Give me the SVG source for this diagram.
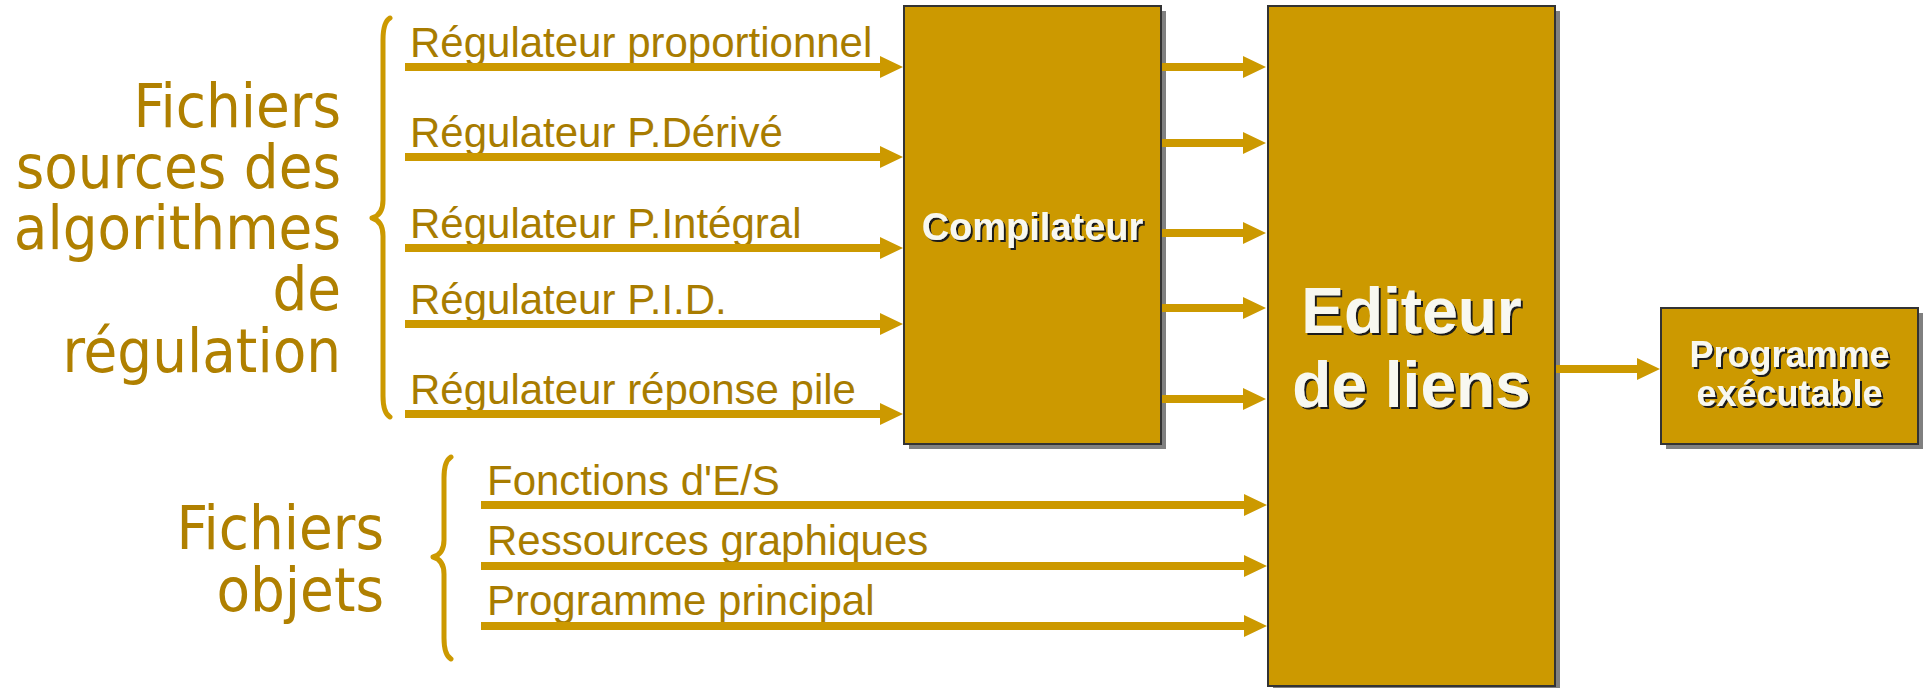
<svg xmlns="http://www.w3.org/2000/svg" width="1924" height="688" viewBox="0 0 1924 688">
<style>
.arr{fill:#CC9900}
.brace{fill:none;stroke:#CC9900;stroke-width:5;stroke-linecap:round;stroke-linejoin:round}
.box{fill:#CC9900;stroke:#333333;stroke-width:2}
.shadow{fill:#808080}
.lbl{font-family:"Liberation Sans",Arial,sans-serif;font-size:42px;fill:#A87C00}
.big{font-family:"DejaVu Sans Condensed","DejaVu Sans",sans-serif;font-stretch:condensed;font-size:61px;fill:#B08000;text-anchor:end}
.bt{font-family:"Liberation Sans",Arial,sans-serif;font-weight:bold;fill:#F8F8F0;text-anchor:middle;filter:url(#ts)}
</style>
<defs>
<filter id="ts" x="-10%" y="-20%" width="120%" height="150%">
<feOffset in="SourceAlpha" dx="2" dy="2" result="o"/>
<feFlood flood-color="#1a1a1a"/>
<feComposite in2="o" operator="in" result="s"/>
<feMerge><feMergeNode in="s"/><feMergeNode in="SourceGraphic"/></feMerge>
</filter>
</defs>
<rect width="1924" height="688" fill="#FFFFFF"/>
<g id="group-sources">
<text class="big" x="341" y="127">Fichiers</text>
<text class="big" x="341" y="188">sources des</text>
<text class="big" x="341" y="249">algorithmes</text>
<text class="big" x="341" y="310">de</text>
<text class="big" x="341" y="372">régulation</text>
<path class="brace" d="M390,18 Q383,22 383,40 L383,200 Q383,215 372,218 Q383,221 383,236 L383,396 Q383,413 390,417"/>
</g>
<g id="group-objets">
<text class="big" x="384" y="549">Fichiers</text>
<text class="big" x="384" y="611">objets</text>
<path class="brace" d="M451,457 Q444,461 444,478 L444,540 Q444,554 433,557 Q444,560 444,574 L444,638 Q444,655 451,659"/>
</g>
<g id="compilateur">
<rect class="shadow" x="909" y="11" width="257" height="438"/>
<rect class="box" x="904" y="6" width="257" height="438"/>
<text class="bt" x="1032.5" y="240" font-size="38">Compilateur</text>
</g>
<g id="editeur">
<rect class="shadow" x="1273" y="11" width="287" height="680"/>
<rect class="box" x="1268" y="6" width="287" height="680"/>
<text class="bt" x="1411.5" y="333" font-size="64">Editeur</text>
<text class="bt" x="1411.5" y="407" font-size="64">de liens</text>
</g>
<g id="programme">
<rect class="shadow" x="1666" y="313" width="257" height="136"/>
<rect class="box" x="1661" y="308" width="257" height="136"/>
<text class="bt" x="1789.5" y="367" font-size="36">Programme</text>
<text class="bt" x="1789.5" y="406" font-size="36">exécutable</text>
</g>
<g id="labels">
<text class="lbl" x="410" y="57">Régulateur proportionnel</text>
<text class="lbl" x="410" y="147">Régulateur P.Dérivé</text>
<text class="lbl" x="410" y="238">Régulateur P.Intégral</text>
<text class="lbl" x="410" y="314">Régulateur P.I.D.</text>
<text class="lbl" x="410" y="404">Régulateur réponse pile</text>
<text class="lbl" x="487" y="495">Fonctions d'E/S</text>
<text class="lbl" x="487" y="555">Ressources graphiques</text>
<text class="lbl" x="487" y="615">Programme principal</text>
</g>
<g id="connectors">
<path class="arr" d="M405,63 H880 V56 L903,67 L880,78 V71 H405 Z"/>
<path class="arr" d="M405,153 H880 V146 L903,157 L880,168 V161 H405 Z"/>
<path class="arr" d="M405,244 H880 V237 L903,248 L880,259 V252 H405 Z"/>
<path class="arr" d="M405,320 H880 V313 L903,324 L880,335 V328 H405 Z"/>
<path class="arr" d="M405,410 H880 V403 L903,414 L880,425 V418 H405 Z"/>
<path class="arr" d="M1162,63 H1243 V56 L1266,67 L1243,78 V71 H1162 Z"/>
<path class="arr" d="M1162,139 H1243 V132 L1266,143 L1243,154 V147 H1162 Z"/>
<path class="arr" d="M1162,229 H1243 V222 L1266,233 L1243,244 V237 H1162 Z"/>
<path class="arr" d="M1162,304 H1243 V297 L1266,308 L1243,319 V312 H1162 Z"/>
<path class="arr" d="M1162,395 H1243 V388 L1266,399 L1243,410 V403 H1162 Z"/>
<path class="arr" d="M481,501 H1244 V494 L1267,505 L1244,516 V509 H481 Z"/>
<path class="arr" d="M481,562 H1244 V555 L1267,566 L1244,577 V570 H481 Z"/>
<path class="arr" d="M481,622 H1244 V615 L1267,626 L1244,637 V630 H481 Z"/>
<path class="arr" d="M1556,365 H1637 V358 L1660,369 L1637,380 V373 H1556 Z"/>
</g>
</svg>
